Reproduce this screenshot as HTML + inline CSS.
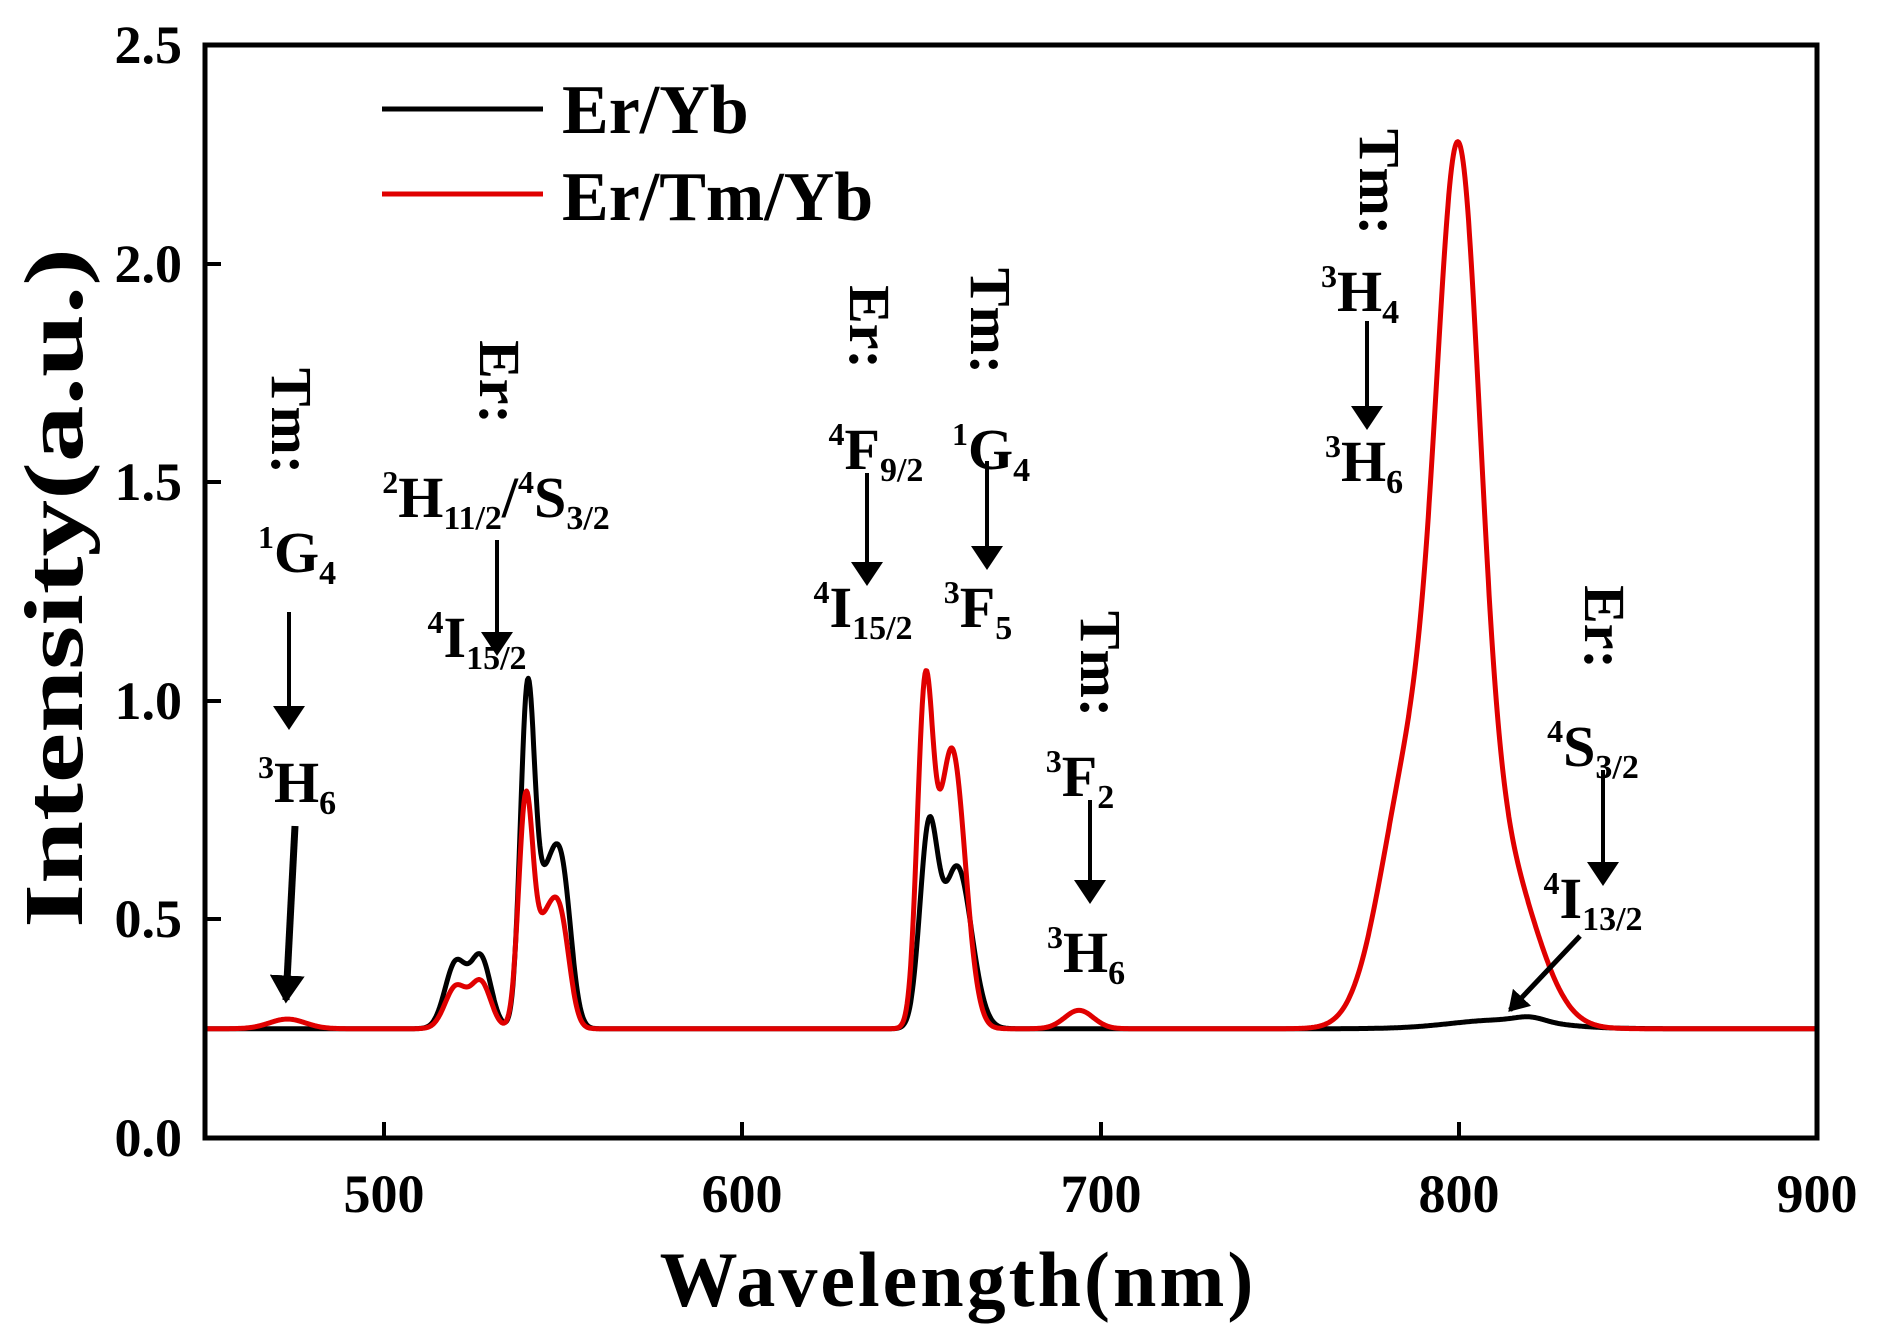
<!DOCTYPE html>
<html><head><meta charset="utf-8">
<style>
html,body{margin:0;padding:0;background:#fff;}
svg{display:block;}
text{font-family:"Liberation Serif",serif;font-weight:bold;fill:#000;}
</style></head>
<body>
<svg id="s" width="1892" height="1344" viewBox="0 0 1892 1344" xmlns="http://www.w3.org/2000/svg">
<defs>
<marker id="ah" markerWidth="6" markerHeight="8" refX="5" refY="4" orient="auto" markerUnits="strokeWidth">
<path d="M0,0 L6,4 L0,8 z" fill="#000"/></marker>
<marker id="ah2" markerWidth="4" markerHeight="5" refX="3.5" refY="2.5" orient="auto" markerUnits="strokeWidth">
<path d="M0,0 L4,2.5 L0,5 z" fill="#000"/></marker>
</defs>
<path id="pb" d="" fill="none" stroke="#000" stroke-width="5" stroke-linejoin="round"/>
<path id="pr" d="" fill="none" stroke="#e00000" stroke-width="5" stroke-linejoin="round"/>
<rect x="205" y="45" width="1612" height="1093" fill="none" stroke="#000" stroke-width="5"/>
<g stroke="#000" stroke-width="4">
<line x1="384" y1="1138" x2="384" y2="1122"/><line x1="742" y1="1138" x2="742" y2="1122"/>
<line x1="1101" y1="1138" x2="1101" y2="1122"/><line x1="1459" y1="1138" x2="1459" y2="1122"/>
<line x1="205" y1="919" x2="221" y2="919"/><line x1="205" y1="701" x2="221" y2="701"/>
<line x1="205" y1="482" x2="221" y2="482"/><line x1="205" y1="264" x2="221" y2="264"/>
</g>
<g font-size="54" text-anchor="end">
<text x="182" y="1156">0.0</text><text x="182" y="937">0.5</text><text x="182" y="719">1.0</text>
<text x="182" y="500">1.5</text><text x="182" y="282">2.0</text><text x="182" y="63">2.5</text>
</g>
<g font-size="54" text-anchor="middle">
<text x="384" y="1212">500</text><text x="742" y="1212">600</text><text x="1101" y="1212">700</text>
<text x="1459" y="1212">800</text><text x="1817" y="1212">900</text>
</g>
<text x="958" y="1306" font-size="78" text-anchor="middle" letter-spacing="3">Wavelength(nm)</text>
<text transform="translate(82,588) rotate(-90)" font-size="84" text-anchor="middle" textLength="680" lengthAdjust="spacingAndGlyphs">Intensity(a.u.)</text>
<line x1="382" y1="109" x2="543" y2="109" stroke="#000" stroke-width="5"/>
<line x1="382" y1="194" x2="543" y2="194" stroke="#e00000" stroke-width="5"/>
<text x="562" y="133" font-size="70">Er/Yb</text>
<text x="562" y="220" font-size="70">Er/Tm/Yb</text>

<g font-size="58">
<text transform="translate(272,421) rotate(90)" text-anchor="middle">Tm:</text>
<text x="297" y="572" text-anchor="middle"><tspan font-size="32" dy="-24">1</tspan><tspan dy="24">G</tspan><tspan font-size="34" dy="12">4</tspan></text>
<line x1="289" y1="612" x2="289" y2="726" stroke="#000" stroke-width="4" marker-end="url(#ah)"/>
<text x="297" y="802" text-anchor="middle"><tspan font-size="32" dy="-24">3</tspan><tspan dy="24">H</tspan><tspan font-size="34" dy="12">6</tspan></text>
<line x1="295" y1="826" x2="286" y2="1000" stroke="#000" stroke-width="7" marker-end="url(#ah2)"/>

<text transform="translate(480,382) rotate(90)" text-anchor="middle">Er:</text>
<text x="496" y="517" text-anchor="middle"><tspan font-size="32" dy="-24">2</tspan><tspan dy="24">H</tspan><tspan font-size="34" dy="12">11/2</tspan><tspan dy="-12">/</tspan><tspan font-size="32" dy="-24">4</tspan><tspan dy="24">S</tspan><tspan font-size="34" dy="12">3/2</tspan></text>
<line x1="497" y1="540" x2="497" y2="652" stroke="#000" stroke-width="4" marker-end="url(#ah)"/>
<text x="477" y="657" text-anchor="middle"><tspan font-size="32" dy="-24">4</tspan><tspan dy="24">I</tspan><tspan font-size="34" dy="12">15/2</tspan></text>

<text transform="translate(850,327) rotate(90)" text-anchor="middle">Er:</text>
<text x="876" y="469" text-anchor="middle"><tspan font-size="32" dy="-24">4</tspan><tspan dy="24">F</tspan><tspan font-size="34" dy="12">9/2</tspan></text>
<line x1="867" y1="473" x2="867" y2="582" stroke="#000" stroke-width="4" marker-end="url(#ah)"/>
<text x="863" y="627" text-anchor="middle"><tspan font-size="32" dy="-24">4</tspan><tspan dy="24">I</tspan><tspan font-size="34" dy="12">15/2</tspan></text>

<text transform="translate(971,321) rotate(90)" text-anchor="middle">Tm:</text>
<text x="991" y="469" text-anchor="middle"><tspan font-size="32" dy="-24">1</tspan><tspan dy="24">G</tspan><tspan font-size="34" dy="12">4</tspan></text>
<line x1="987" y1="461" x2="987" y2="566" stroke="#000" stroke-width="4" marker-end="url(#ah)"/>
<text x="978" y="627" text-anchor="middle"><tspan font-size="32" dy="-24">3</tspan><tspan dy="24">F</tspan><tspan font-size="34" dy="12">5</tspan></text>

<text transform="translate(1081,664) rotate(90)" text-anchor="middle">Tm:</text>
<text x="1080" y="796" text-anchor="middle"><tspan font-size="32" dy="-24">3</tspan><tspan dy="24">F</tspan><tspan font-size="34" dy="12">2</tspan></text>
<line x1="1090" y1="800" x2="1090" y2="900" stroke="#000" stroke-width="4" marker-end="url(#ah)"/>
<text x="1086" y="972" text-anchor="middle"><tspan font-size="32" dy="-24">3</tspan><tspan dy="24">H</tspan><tspan font-size="34" dy="12">6</tspan></text>

<text transform="translate(1360,182) rotate(90)" text-anchor="middle">Tm:</text>
<text x="1360" y="311" text-anchor="middle"><tspan font-size="32" dy="-24">3</tspan><tspan dy="24">H</tspan><tspan font-size="34" dy="12">4</tspan></text>
<line x1="1367" y1="321" x2="1367" y2="426" stroke="#000" stroke-width="4" marker-end="url(#ah)"/>
<text x="1364" y="481" text-anchor="middle"><tspan font-size="32" dy="-24">3</tspan><tspan dy="24">H</tspan><tspan font-size="34" dy="12">6</tspan></text>

<text transform="translate(1585,627) rotate(90)" text-anchor="middle">Er:</text>
<text x="1593" y="766" text-anchor="middle"><tspan font-size="32" dy="-24">4</tspan><tspan dy="24">S</tspan><tspan font-size="34" dy="12">3/2</tspan></text>
<line x1="1603" y1="770" x2="1603" y2="882" stroke="#000" stroke-width="4" marker-end="url(#ah)"/>
<text x="1593" y="918" text-anchor="middle"><tspan font-size="32" dy="-24">4</tspan><tspan dy="24">I</tspan><tspan font-size="34" dy="12">13/2</tspan></text>
<line x1="1580" y1="936" x2="1510" y2="1010" stroke="#000" stroke-width="5" marker-end="url(#ah2)"/>
</g>
</svg>
<script>
(function(){
var B=[[520,.15,3],[527,.16,2.8],[540,.74,2],[545.5,.31,3],[550,.28,2.5],[652,.43,2.5],[660,.37,4],[812,.02,14],[820,.01,4]];
var R=[[473,.022,5],[520,.095,3],[527,.105,2.8],[539.5,.5,2],[545,.22,3],[549.5,.2,2.5],[651,.73,2.2],[658.5,.64,3.7],[694,.042,4],[800,1.67,6],[787,.6,8.5],[812,.38,9.5]];
function f(L,x){var s=.25;for(var i=0;i<L.length;i++){var d=(x-L[i][0])/L[i][2];s+=L[i][1]*Math.exp(-d*d/2);}return s;}
function p(L){var d="";for(var x=450;x<=900;x+=0.25){var X=205+(x-450)*3.582,Y=1138-f(L,x)*437.2;d+=(d?"L":"M")+X.toFixed(1)+","+Y.toFixed(1);}return d;}
document.getElementById("pb").setAttribute("d",p(B));
document.getElementById("pr").setAttribute("d",p(R));
})();
</script>
</body></html>
